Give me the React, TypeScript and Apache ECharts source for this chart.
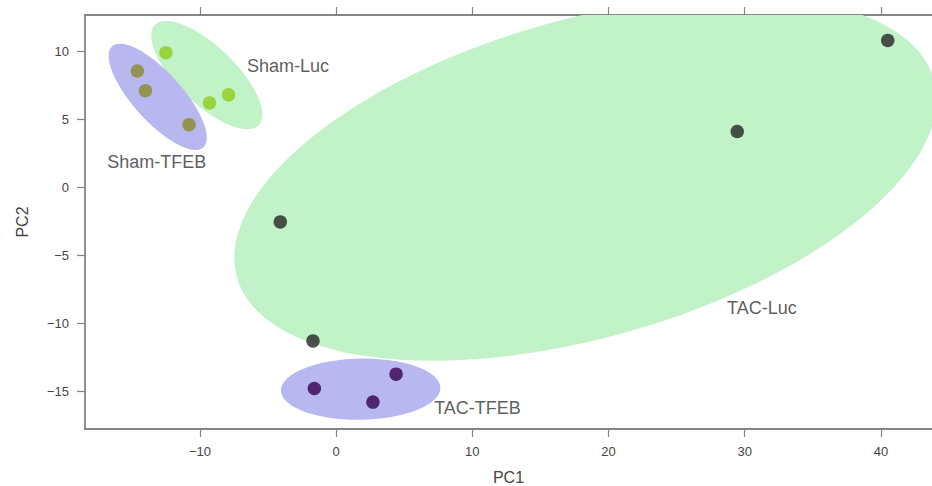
import React, { useEffect, useRef } from "react";
import * as echarts from "echarts";

// Sample scores (PC1, PC2)
const shamLuc: number[][] = [[-12.5, 9.9], [-9.3, 6.2], [-7.9, 6.8]];
const shamTfeb: number[][] = [[-14.6, 8.55], [-14.0, 7.1], [-10.8, 4.6]];
const tacLuc: number[][] = [[40.5, 10.8], [29.45, 4.1], [-4.1, -2.55], [-1.7, -11.3]];
const tacTfeb: number[][] = [[-1.6, -14.8], [2.7, -15.8], [4.4, -13.75]];

// Group ellipses: [centerPC1, centerPC2, semiMajor, semiMinor, angleDeg]
const ellipseNames = ["TAC-Luc", "Sham-Luc", "Sham-TFEB", "TAC-TFEB"];
const ellipseParams: number[][] = [
  [18.3, 0.65, 26.6, 11.7, 15.9],
  [-9.5, 8.25, 5.3, 2.1, -44],
  [-13.1, 6.65, 5.0, 1.8, -48],
  [1.8, -14.85, 5.85, 2.25, 1],
];
const ellipseColors = ["#c2f2c8", "#c2f2c8", "#b8b7f0", "#b8b7f0"];

// Group labels: [PC1 of left edge, PC2]
const groupLabels = ["Sham-Luc", "Sham-TFEB", "TAC-Luc", "TAC-TFEB"];
const groupLabelPos: number[][] = [[-6.55, 8.9], [-16.8, 1.85], [28.7, -8.9], [7.2, -16.2]];

const xTicks = [-10, 0, 10, 20, 30, 40];
const yTicks = [-15, -10, -5, 0, 5, 10];

const FONT = "Liberation Sans, Arial, sans-serif";
const fmt = (v: number) => String(v).replace("-", "\u2212");

export default function App() {
  const ref = useRef<HTMLDivElement>(null);
  useEffect(() => {
    if (!ref.current) return;
    const chart = echarts.init(ref.current, null, { renderer: "svg" });
    const axisLine = { show: true, onZero: false, lineStyle: { color: "#858585", width: 1.8 } };
    const axisTick = { show: true, length: 8, lineStyle: { color: "#858585", width: 1.2 } };
    const xMin = -18.44, xMax = 43.75, yMin = -17.78, yMax = 12.67;
    const option: any = {
      animation: false,
      backgroundColor: "#ffffff",
      grid: { left: 85, top: 15, right: 0, bottom: 57, containLabel: false, outerBoundsMode: "none" },
      xAxis: [
        {
          type: "value", position: "bottom", min: xMin, max: xMax,
          splitLine: { show: false }, axisLine,
          axisTick: { ...axisTick, customValues: xTicks },
          axisLabel: { customValues: xTicks, formatter: fmt, color: "#444", fontSize: 13, fontFamily: FONT, margin: 16 },
          name: "PC1", nameLocation: "middle", nameGap: 40,
          nameTextStyle: { color: "#444", fontSize: 16, fontFamily: FONT },
        },
        {
          type: "value", position: "top", min: xMin, max: xMax,
          splitLine: { show: false }, axisLine,
          axisTick: { ...axisTick, customValues: xTicks },
          axisLabel: { show: false },
        },
      ],
      yAxis: [
        {
          type: "value", min: yMin, max: yMax,
          splitLine: { show: false }, axisLine,
          axisTick: { ...axisTick, customValues: yTicks },
          axisLabel: { customValues: yTicks, formatter: fmt, color: "#444", fontSize: 13, fontFamily: FONT, margin: 16 },
          name: "PC2", nameLocation: "middle", nameGap: 55, nameRotate: 90,
          nameTextStyle: { color: "#444", fontSize: 16, fontFamily: FONT },
        },
      ],
      series: [
        {
          type: "custom",
          name: "ellipses",
          clip: true,
          silent: true,
          z: 1,
          data: ellipseParams.map((p, i) => ({ name: ellipseNames[i], value: p })),
          encode: { x: 0, y: 1 },
          renderItem: (params: any, api: any) => {
            const cx = api.value(0), cy = api.value(1), a = api.value(2), b = api.value(3);
            const th = (api.value(4) * Math.PI) / 180;
            const pts: number[][] = [];
            for (let k = 0; k < 180; k++) {
              const t = (k / 180) * Math.PI * 2;
              const x = cx + a * Math.cos(th) * Math.cos(t) - b * Math.sin(th) * Math.sin(t);
              const y = cy + a * Math.sin(th) * Math.cos(t) + b * Math.cos(th) * Math.sin(t);
              pts.push(api.coord([x, y]));
            }
            return {
              type: "polygon",
              shape: { points: pts },
              style: { fill: ellipseColors[params.dataIndex], stroke: null },
            };
          },
        },
        { type: "scatter", name: "Sham-Luc", data: shamLuc, symbolSize: 13.5, itemStyle: { color: "#8fcc1c" }, z: 3 },
        { type: "scatter", name: "Sham-TFEB", data: shamTfeb, symbolSize: 13.5, itemStyle: { color: "#8a8a2a" }, z: 3 },
        { type: "scatter", name: "TAC-Luc", data: tacLuc, symbolSize: 13.5, itemStyle: { color: "#262626" }, z: 3 },
        { type: "scatter", name: "TAC-TFEB", data: tacTfeb, symbolSize: 13.5, itemStyle: { color: "#35004f" }, z: 3 },
        {
          type: "scatter",
          name: "labels",
          silent: true,
          symbolSize: 0,
          z: 4,
          data: groupLabelPos.map((p, i) => ({ value: p, name: groupLabels[i] })),
          label: {
            show: true,
            position: "right",
            distance: 0,
            formatter: (p: any) => p.name,
            color: "#333",
            fontSize: 18,
            fontFamily: FONT,
          },
        },
      ],
    };
    chart.setOption(option);
    return () => chart.dispose();
  }, []);
  return (
    <div
      ref={ref}
      style={{ position: "fixed", left: 0, top: 0, width: 932, height: 486, background: "#fff" }}
    />
  );
}
